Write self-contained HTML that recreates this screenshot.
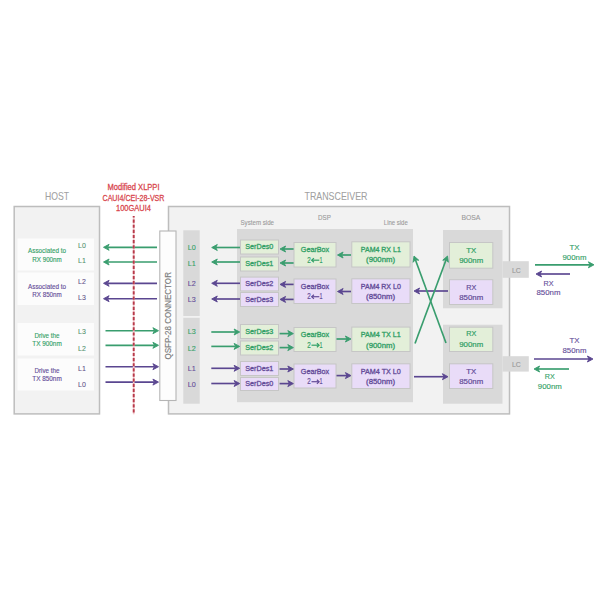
<!DOCTYPE html>
<html><head><meta charset="utf-8"><style>
html,body{margin:0;padding:0;background:#fff;width:600px;height:600px;overflow:hidden}
svg{display:block;font-family:"Liberation Sans", sans-serif}
</style></head><body>
<svg width="600" height="600" viewBox="0 0 600 600">
<rect x="0" y="0" width="600" height="600" fill="#ffffff"/>
<text x="57" y="199.5" font-size="10.3" fill="#a0a0a0" stroke="#a0a0a0" stroke-width="0.06" text-anchor="middle" font-weight="normal" textLength="24" lengthAdjust="spacingAndGlyphs" >HOST</text>
<rect x="14.2" y="206.5" width="85.3" height="207.39999999999998" fill="#f2f2f2" stroke="#bdbdbd" stroke-width="1.5"/>
<rect x="17.5" y="238.5" width="76.5" height="32.0" fill="#fcfcfc"/>
<rect x="17.5" y="272.5" width="76.5" height="32.5" fill="#fcfcfc"/>
<rect x="17.5" y="323" width="76.5" height="32.5" fill="#fcfcfc"/>
<rect x="17.5" y="358.5" width="76.5" height="32.0" fill="#fcfcfc"/>
<text x="47" y="253" font-size="6.4" fill="#32a066" stroke="#32a066" stroke-width="0.12" text-anchor="middle" font-weight="normal" textLength="38" lengthAdjust="spacingAndGlyphs" >Associated to</text>
<text x="47" y="261.5" font-size="6.4" fill="#32a066" stroke="#32a066" stroke-width="0.12" text-anchor="middle" font-weight="normal" textLength="29.5" lengthAdjust="spacingAndGlyphs" >RX 900nm</text>
<text x="82" y="247.7" font-size="7" fill="#4f8f6b" stroke="#4f8f6b" stroke-width="0.06" text-anchor="middle" font-weight="normal" >L0</text>
<text x="82" y="262.7" font-size="7" fill="#4f8f6b" stroke="#4f8f6b" stroke-width="0.06" text-anchor="middle" font-weight="normal" >L1</text>
<text x="47" y="288.5" font-size="6.4" fill="#644c98" stroke="#644c98" stroke-width="0.12" text-anchor="middle" font-weight="normal" textLength="38" lengthAdjust="spacingAndGlyphs" >Associated to</text>
<text x="47" y="296.5" font-size="6.4" fill="#644c98" stroke="#644c98" stroke-width="0.12" text-anchor="middle" font-weight="normal" textLength="29.5" lengthAdjust="spacingAndGlyphs" >RX 850nm</text>
<text x="82" y="283.7" font-size="7" fill="#5c4f86" stroke="#5c4f86" stroke-width="0.06" text-anchor="middle" font-weight="normal" >L2</text>
<text x="82" y="299.6" font-size="7" fill="#5c4f86" stroke="#5c4f86" stroke-width="0.06" text-anchor="middle" font-weight="normal" >L3</text>
<text x="47" y="337.5" font-size="6.4" fill="#32a066" stroke="#32a066" stroke-width="0.12" text-anchor="middle" font-weight="normal" textLength="25" lengthAdjust="spacingAndGlyphs" >Drive the</text>
<text x="47" y="345.5" font-size="6.4" fill="#32a066" stroke="#32a066" stroke-width="0.12" text-anchor="middle" font-weight="normal" textLength="29.5" lengthAdjust="spacingAndGlyphs" >TX 900nm</text>
<text x="82" y="334.2" font-size="7" fill="#4f8f6b" stroke="#4f8f6b" stroke-width="0.06" text-anchor="middle" font-weight="normal" >L3</text>
<text x="82" y="350.7" font-size="7" fill="#4f8f6b" stroke="#4f8f6b" stroke-width="0.06" text-anchor="middle" font-weight="normal" >L2</text>
<text x="47" y="373" font-size="6.4" fill="#644c98" stroke="#644c98" stroke-width="0.12" text-anchor="middle" font-weight="normal" textLength="25" lengthAdjust="spacingAndGlyphs" >Drive the</text>
<text x="47" y="381" font-size="6.4" fill="#644c98" stroke="#644c98" stroke-width="0.12" text-anchor="middle" font-weight="normal" textLength="29.5" lengthAdjust="spacingAndGlyphs" >TX 850nm</text>
<text x="82" y="370.7" font-size="7" fill="#5c4f86" stroke="#5c4f86" stroke-width="0.06" text-anchor="middle" font-weight="normal" >L1</text>
<text x="82" y="387.2" font-size="7" fill="#5c4f86" stroke="#5c4f86" stroke-width="0.06" text-anchor="middle" font-weight="normal" >L0</text>
<text x="133.5" y="190" font-size="8.2" fill="#d8454d" stroke="#d8454d" stroke-width="0.26" text-anchor="middle" font-weight="normal" textLength="52" lengthAdjust="spacingAndGlyphs" >Modified XLPPI</text>
<text x="133.5" y="200.8" font-size="8.2" fill="#d8454d" stroke="#d8454d" stroke-width="0.26" text-anchor="middle" font-weight="normal" textLength="62" lengthAdjust="spacingAndGlyphs" >CAUI4/CEI-28-VSR</text>
<text x="133.5" y="211" font-size="8.2" fill="#d8454d" stroke="#d8454d" stroke-width="0.26" text-anchor="middle" font-weight="normal" textLength="35" lengthAdjust="spacingAndGlyphs" >100GAUI4</text>
<text x="336" y="200" font-size="10.3" fill="#a0a0a0" stroke="#a0a0a0" stroke-width="0.06" text-anchor="middle" font-weight="normal" textLength="63" lengthAdjust="spacingAndGlyphs" >TRANSCEIVER</text>
<rect x="168.5" y="206.5" width="341.0" height="207.39999999999998" fill="#f2f2f2" stroke="#bdbdbd" stroke-width="1.5"/>
<line x1="157" y1="247.3" x2="107.53" y2="247.30" stroke="#399d6e" stroke-width="1.65"/>
<polygon points="109.10,244.30 103.50,247.30 109.10,250.30 107.53,247.30" fill="#399d6e" stroke="#399d6e" stroke-width="0.9" stroke-linejoin="round"/>
<line x1="157" y1="262" x2="107.53" y2="262.00" stroke="#399d6e" stroke-width="1.65"/>
<polygon points="109.10,259.00 103.50,262.00 109.10,265.00 107.53,262.00" fill="#399d6e" stroke="#399d6e" stroke-width="0.9" stroke-linejoin="round"/>
<line x1="157" y1="283.3" x2="107.53" y2="283.30" stroke="#5a4690" stroke-width="1.65"/>
<polygon points="109.10,280.30 103.50,283.30 109.10,286.30 107.53,283.30" fill="#5a4690" stroke="#5a4690" stroke-width="0.9" stroke-linejoin="round"/>
<line x1="157" y1="298.7" x2="107.53" y2="298.70" stroke="#5a4690" stroke-width="1.65"/>
<polygon points="109.10,295.70 103.50,298.70 109.10,301.70 107.53,298.70" fill="#5a4690" stroke="#5a4690" stroke-width="0.9" stroke-linejoin="round"/>
<line x1="105.5" y1="330.7" x2="154.47" y2="330.70" stroke="#399d6e" stroke-width="1.65"/>
<polygon points="152.90,333.70 158.50,330.70 152.90,327.70 154.47,330.70" fill="#399d6e" stroke="#399d6e" stroke-width="0.9" stroke-linejoin="round"/>
<line x1="105.5" y1="345.3" x2="154.47" y2="345.30" stroke="#399d6e" stroke-width="1.65"/>
<polygon points="152.90,348.30 158.50,345.30 152.90,342.30 154.47,345.30" fill="#399d6e" stroke="#399d6e" stroke-width="0.9" stroke-linejoin="round"/>
<line x1="105.5" y1="366.7" x2="154.47" y2="366.70" stroke="#5a4690" stroke-width="1.65"/>
<polygon points="152.90,369.70 158.50,366.70 152.90,363.70 154.47,366.70" fill="#5a4690" stroke="#5a4690" stroke-width="0.9" stroke-linejoin="round"/>
<line x1="105.5" y1="382.1" x2="154.47" y2="382.10" stroke="#5a4690" stroke-width="1.65"/>
<polygon points="152.90,385.10 158.50,382.10 152.90,379.10 154.47,382.10" fill="#5a4690" stroke="#5a4690" stroke-width="0.9" stroke-linejoin="round"/>
<line x1="133.7" y1="216" x2="133.7" y2="414.3" stroke="#f3c9cd" stroke-width="1.7"/>
<line x1="133.7" y1="216" x2="133.7" y2="414.3" stroke="#b73a4a" stroke-width="1.9" stroke-dasharray="3.2 1.93" stroke-dashoffset="1.6"/>
<rect x="159.8" y="231" width="16.19999999999999" height="169.5" fill="#fdfdfd" stroke="#b5b5b5" stroke-width="1.1"/>
<text x="0" y="0" font-size="9.2" fill="#7c7c7c" stroke="#7c7c7c" stroke-width="0.15" text-anchor="middle" transform="translate(171.0,315.8) rotate(-90)" textLength="87.5" lengthAdjust="spacingAndGlyphs">QSFP-28 CONNECTOR</text>
<rect x="183.3" y="230.3" width="16.399999999999977" height="85.69999999999999" fill="#d9d9d9"/>
<rect x="183.3" y="317.8" width="16.399999999999977" height="85.89999999999998" fill="#d9d9d9"/>
<text x="191.7" y="249.6" font-size="7.2" fill="#32a066" stroke="#32a066" stroke-width="0.11" text-anchor="middle" font-weight="normal" >L0</text>
<text x="191.7" y="265.90000000000003" font-size="7.2" fill="#32a066" stroke="#32a066" stroke-width="0.11" text-anchor="middle" font-weight="normal" >L1</text>
<text x="191.7" y="285.90000000000003" font-size="7.2" fill="#644c98" stroke="#644c98" stroke-width="0.11" text-anchor="middle" font-weight="normal" >L2</text>
<text x="191.7" y="301.6" font-size="7.2" fill="#644c98" stroke="#644c98" stroke-width="0.11" text-anchor="middle" font-weight="normal" >L3</text>
<text x="191.7" y="334.20000000000005" font-size="7.2" fill="#32a066" stroke="#32a066" stroke-width="0.11" text-anchor="middle" font-weight="normal" >L3</text>
<text x="191.7" y="350.6" font-size="7.2" fill="#32a066" stroke="#32a066" stroke-width="0.11" text-anchor="middle" font-weight="normal" >L2</text>
<text x="191.7" y="370.6" font-size="7.2" fill="#644c98" stroke="#644c98" stroke-width="0.11" text-anchor="middle" font-weight="normal" >L1</text>
<text x="191.7" y="386.6" font-size="7.2" fill="#644c98" stroke="#644c98" stroke-width="0.11" text-anchor="middle" font-weight="normal" >L0</text>
<text x="324.4" y="219.6" font-size="7.9" fill="#999999" stroke="#999999" stroke-width="0.11" text-anchor="middle" font-weight="normal" textLength="12.8" lengthAdjust="spacingAndGlyphs" >DSP</text>
<text x="240.5" y="225" font-size="6.8" fill="#9a9a9a" stroke="#9a9a9a" stroke-width="0.1" text-anchor="start" font-weight="normal" textLength="33.5" lengthAdjust="spacingAndGlyphs" >System side</text>
<text x="383.8" y="225" font-size="6.8" fill="#9a9a9a" stroke="#9a9a9a" stroke-width="0.1" text-anchor="start" font-weight="normal" textLength="24" lengthAdjust="spacingAndGlyphs" >Line side</text>
<rect x="237" y="229" width="176" height="173.2" fill="#d9d9d9"/>
<rect x="240.5" y="240.0" width="38.0" height="14.0" fill="#e3efd9" stroke="#c6c6c6" stroke-width="1"/>
<text x="259.3" y="249.3" font-size="7.2" fill="#32a066" stroke="#32a066" stroke-width="0.31" text-anchor="middle" font-weight="normal" textLength="28" lengthAdjust="spacingAndGlyphs" >SerDes0</text>
<rect x="240.5" y="257.0" width="38.0" height="14.0" fill="#e3efd9" stroke="#c6c6c6" stroke-width="1"/>
<text x="259.3" y="266.3" font-size="7.2" fill="#32a066" stroke="#32a066" stroke-width="0.31" text-anchor="middle" font-weight="normal" textLength="28" lengthAdjust="spacingAndGlyphs" >SerDes1</text>
<rect x="240.5" y="277.1" width="38.0" height="13.799999999999955" fill="#e9dcf8" stroke="#c6c6c6" stroke-width="1"/>
<text x="259.3" y="286.3" font-size="7.2" fill="#644c98" stroke="#644c98" stroke-width="0.31" text-anchor="middle" font-weight="normal" textLength="28" lengthAdjust="spacingAndGlyphs" >SerDes2</text>
<rect x="240.5" y="292.5" width="38.0" height="14.0" fill="#e9dcf8" stroke="#c6c6c6" stroke-width="1"/>
<text x="259.3" y="301.8" font-size="7.2" fill="#644c98" stroke="#644c98" stroke-width="0.31" text-anchor="middle" font-weight="normal" textLength="28" lengthAdjust="spacingAndGlyphs" >SerDes3</text>
<rect x="240.5" y="324.5" width="38.0" height="14.0" fill="#e3efd9" stroke="#c6c6c6" stroke-width="1"/>
<text x="259.3" y="333.8" font-size="7.2" fill="#32a066" stroke="#32a066" stroke-width="0.31" text-anchor="middle" font-weight="normal" textLength="28" lengthAdjust="spacingAndGlyphs" >SerDes3</text>
<rect x="240.5" y="341.0" width="38.0" height="14.0" fill="#e3efd9" stroke="#c6c6c6" stroke-width="1"/>
<text x="259.3" y="350.3" font-size="7.2" fill="#32a066" stroke="#32a066" stroke-width="0.31" text-anchor="middle" font-weight="normal" textLength="28" lengthAdjust="spacingAndGlyphs" >SerDes2</text>
<rect x="240.5" y="361.5" width="38.0" height="14.0" fill="#e9dcf8" stroke="#c6c6c6" stroke-width="1"/>
<text x="259.3" y="370.8" font-size="7.2" fill="#644c98" stroke="#644c98" stroke-width="0.31" text-anchor="middle" font-weight="normal" textLength="28" lengthAdjust="spacingAndGlyphs" >SerDes1</text>
<rect x="240.5" y="377.5" width="38.0" height="13.0" fill="#e9dcf8" stroke="#c6c6c6" stroke-width="1"/>
<text x="259.3" y="386.3" font-size="7.2" fill="#644c98" stroke="#644c98" stroke-width="0.31" text-anchor="middle" font-weight="normal" textLength="28" lengthAdjust="spacingAndGlyphs" >SerDes0</text>
<rect x="294.0" y="242.5" width="42.0" height="24.5" fill="#e3efd9" stroke="#c6c6c6" stroke-width="1"/>
<text x="315" y="252" font-size="7.2" fill="#32a066" stroke="#32a066" stroke-width="0.31" text-anchor="middle" font-weight="normal" textLength="28.4" lengthAdjust="spacingAndGlyphs" >GearBox</text>
<text x="309.0" y="262.6" font-size="8.4" fill="#32a066" stroke="#32a066" stroke-width="0.18" text-anchor="middle" font-weight="normal" textLength="3.5" lengthAdjust="spacingAndGlyphs" >2</text>
<text x="321.1" y="262.6" font-size="8.4" fill="#32a066" stroke="#32a066" stroke-width="0.18" text-anchor="middle" font-weight="normal" textLength="3.0" lengthAdjust="spacingAndGlyphs" >1</text>
<polyline points="313.9,258.2 311.7,260.2 313.9,262.2" fill="none" stroke="#32a066" stroke-width="1.2"/>
<line x1="311.9" y1="260.2" x2="319.3" y2="260.2" stroke="#32a066" stroke-width="1.2"/>
<rect x="294.0" y="279.0" width="42.0" height="24.5" fill="#e9dcf8" stroke="#c6c6c6" stroke-width="1"/>
<text x="315" y="288.5" font-size="7.2" fill="#644c98" stroke="#644c98" stroke-width="0.31" text-anchor="middle" font-weight="normal" textLength="28.4" lengthAdjust="spacingAndGlyphs" >GearBox</text>
<text x="309.0" y="299.1" font-size="8.4" fill="#644c98" stroke="#644c98" stroke-width="0.18" text-anchor="middle" font-weight="normal" textLength="3.5" lengthAdjust="spacingAndGlyphs" >2</text>
<text x="321.1" y="299.1" font-size="8.4" fill="#644c98" stroke="#644c98" stroke-width="0.18" text-anchor="middle" font-weight="normal" textLength="3.0" lengthAdjust="spacingAndGlyphs" >1</text>
<polyline points="313.9,294.7 311.7,296.7 313.9,298.7" fill="none" stroke="#644c98" stroke-width="1.2"/>
<line x1="311.9" y1="296.7" x2="319.3" y2="296.7" stroke="#644c98" stroke-width="1.2"/>
<rect x="294.0" y="327.5" width="42.0" height="24.0" fill="#e3efd9" stroke="#c6c6c6" stroke-width="1"/>
<text x="315" y="337" font-size="7.2" fill="#32a066" stroke="#32a066" stroke-width="0.31" text-anchor="middle" font-weight="normal" textLength="28.4" lengthAdjust="spacingAndGlyphs" >GearBox</text>
<text x="309.0" y="347.6" font-size="8.4" fill="#32a066" stroke="#32a066" stroke-width="0.18" text-anchor="middle" font-weight="normal" textLength="3.5" lengthAdjust="spacingAndGlyphs" >2</text>
<text x="321.1" y="347.6" font-size="8.4" fill="#32a066" stroke="#32a066" stroke-width="0.18" text-anchor="middle" font-weight="normal" textLength="3.0" lengthAdjust="spacingAndGlyphs" >1</text>
<polyline points="316.9,343.2 319.1,345.2 316.9,347.2" fill="none" stroke="#32a066" stroke-width="1.2"/>
<line x1="311.5" y1="345.2" x2="318.9" y2="345.2" stroke="#32a066" stroke-width="1.2"/>
<rect x="294.0" y="364.0" width="42.0" height="24.0" fill="#e9dcf8" stroke="#c6c6c6" stroke-width="1"/>
<text x="315" y="373.5" font-size="7.2" fill="#644c98" stroke="#644c98" stroke-width="0.31" text-anchor="middle" font-weight="normal" textLength="28.4" lengthAdjust="spacingAndGlyphs" >GearBox</text>
<text x="309.0" y="384.1" font-size="8.4" fill="#644c98" stroke="#644c98" stroke-width="0.18" text-anchor="middle" font-weight="normal" textLength="3.5" lengthAdjust="spacingAndGlyphs" >2</text>
<text x="321.1" y="384.1" font-size="8.4" fill="#644c98" stroke="#644c98" stroke-width="0.18" text-anchor="middle" font-weight="normal" textLength="3.0" lengthAdjust="spacingAndGlyphs" >1</text>
<polyline points="316.9,379.7 319.1,381.7 316.9,383.7" fill="none" stroke="#644c98" stroke-width="1.2"/>
<line x1="311.5" y1="381.7" x2="318.9" y2="381.7" stroke="#644c98" stroke-width="1.2"/>
<rect x="351.8" y="241.8" width="58.19999999999999" height="25.19999999999999" fill="#e3efd9" stroke="#c6c6c6" stroke-width="1"/>
<text x="380.8" y="251.8" font-size="7" fill="#32a066" stroke="#32a066" stroke-width="0.31" text-anchor="middle" font-weight="normal" textLength="40" lengthAdjust="spacingAndGlyphs" >PAM4 RX L1</text>
<text x="380.6" y="262.3" font-size="7.3" fill="#32a066" stroke="#32a066" stroke-width="0.31" text-anchor="middle" font-weight="normal" textLength="29" lengthAdjust="spacingAndGlyphs" >(900nm)</text>
<rect x="351.8" y="278.8" width="58.19999999999999" height="24.69999999999999" fill="#e9dcf8" stroke="#c6c6c6" stroke-width="1"/>
<text x="380.8" y="288.8" font-size="7" fill="#644c98" stroke="#644c98" stroke-width="0.31" text-anchor="middle" font-weight="normal" textLength="40" lengthAdjust="spacingAndGlyphs" >PAM4 RX L0</text>
<text x="380.6" y="299.3" font-size="7.3" fill="#644c98" stroke="#644c98" stroke-width="0.31" text-anchor="middle" font-weight="normal" textLength="29" lengthAdjust="spacingAndGlyphs" >(850nm)</text>
<rect x="351.8" y="327.1" width="58.19999999999999" height="24.399999999999977" fill="#e3efd9" stroke="#c6c6c6" stroke-width="1"/>
<text x="380.8" y="337.1" font-size="7" fill="#32a066" stroke="#32a066" stroke-width="0.31" text-anchor="middle" font-weight="normal" textLength="40" lengthAdjust="spacingAndGlyphs" >PAM4 TX L1</text>
<text x="380.6" y="347.6" font-size="7.3" fill="#32a066" stroke="#32a066" stroke-width="0.31" text-anchor="middle" font-weight="normal" textLength="29" lengthAdjust="spacingAndGlyphs" >(900nm)</text>
<rect x="351.8" y="363.8" width="58.19999999999999" height="24.69999999999999" fill="#e9dcf8" stroke="#c6c6c6" stroke-width="1"/>
<text x="380.8" y="373.8" font-size="7" fill="#644c98" stroke="#644c98" stroke-width="0.31" text-anchor="middle" font-weight="normal" textLength="40" lengthAdjust="spacingAndGlyphs" >PAM4 TX L0</text>
<text x="380.6" y="384.3" font-size="7.3" fill="#644c98" stroke="#644c98" stroke-width="0.31" text-anchor="middle" font-weight="normal" textLength="29" lengthAdjust="spacingAndGlyphs" >(850nm)</text>
<line x1="240" y1="247.5" x2="215.73" y2="247.50" stroke="#399d6e" stroke-width="1.65"/>
<polygon points="217.30,244.50 211.70,247.50 217.30,250.50 215.73,247.50" fill="#399d6e" stroke="#399d6e" stroke-width="0.9" stroke-linejoin="round"/>
<line x1="240" y1="262" x2="215.73" y2="262.00" stroke="#399d6e" stroke-width="1.65"/>
<polygon points="217.30,259.00 211.70,262.00 217.30,265.00 215.73,262.00" fill="#399d6e" stroke="#399d6e" stroke-width="0.9" stroke-linejoin="round"/>
<line x1="240" y1="283.3" x2="215.73" y2="283.30" stroke="#5a4690" stroke-width="1.65"/>
<polygon points="217.30,280.30 211.70,283.30 217.30,286.30 215.73,283.30" fill="#5a4690" stroke="#5a4690" stroke-width="0.9" stroke-linejoin="round"/>
<line x1="240" y1="299" x2="215.73" y2="299.00" stroke="#5a4690" stroke-width="1.65"/>
<polygon points="217.30,296.00 211.70,299.00 217.30,302.00 215.73,299.00" fill="#5a4690" stroke="#5a4690" stroke-width="0.9" stroke-linejoin="round"/>
<line x1="211.3" y1="332" x2="235.67" y2="332.00" stroke="#399d6e" stroke-width="1.65"/>
<polygon points="234.10,335.00 239.70,332.00 234.10,329.00 235.67,332.00" fill="#399d6e" stroke="#399d6e" stroke-width="0.9" stroke-linejoin="round"/>
<line x1="211.3" y1="346.4" x2="235.67" y2="346.40" stroke="#399d6e" stroke-width="1.65"/>
<polygon points="234.10,349.40 239.70,346.40 234.10,343.40 235.67,346.40" fill="#399d6e" stroke="#399d6e" stroke-width="0.9" stroke-linejoin="round"/>
<line x1="211.3" y1="368.3" x2="235.67" y2="368.30" stroke="#5a4690" stroke-width="1.65"/>
<polygon points="234.10,371.30 239.70,368.30 234.10,365.30 235.67,368.30" fill="#5a4690" stroke="#5a4690" stroke-width="0.9" stroke-linejoin="round"/>
<line x1="211.3" y1="383.5" x2="235.67" y2="383.50" stroke="#5a4690" stroke-width="1.65"/>
<polygon points="234.10,386.50 239.70,383.50 234.10,380.50 235.67,383.50" fill="#5a4690" stroke="#5a4690" stroke-width="0.9" stroke-linejoin="round"/>
<line x1="293.6" y1="249" x2="284.03" y2="249.00" stroke="#399d6e" stroke-width="1.65"/>
<polygon points="285.60,246.00 280.00,249.00 285.60,252.00 284.03,249.00" fill="#399d6e" stroke="#399d6e" stroke-width="0.9" stroke-linejoin="round"/>
<line x1="293.6" y1="263" x2="284.03" y2="263.00" stroke="#399d6e" stroke-width="1.65"/>
<polygon points="285.60,260.00 280.00,263.00 285.60,266.00 284.03,263.00" fill="#399d6e" stroke="#399d6e" stroke-width="0.9" stroke-linejoin="round"/>
<line x1="293.6" y1="284.4" x2="284.03" y2="284.40" stroke="#5a4690" stroke-width="1.65"/>
<polygon points="285.60,281.40 280.00,284.40 285.60,287.40 284.03,284.40" fill="#5a4690" stroke="#5a4690" stroke-width="0.9" stroke-linejoin="round"/>
<line x1="293.6" y1="299.4" x2="284.03" y2="299.40" stroke="#5a4690" stroke-width="1.65"/>
<polygon points="285.60,296.40 280.00,299.40 285.60,302.40 284.03,299.40" fill="#5a4690" stroke="#5a4690" stroke-width="0.9" stroke-linejoin="round"/>
<line x1="279.6" y1="333.6" x2="289.37" y2="333.60" stroke="#399d6e" stroke-width="1.65"/>
<polygon points="287.80,336.60 293.40,333.60 287.80,330.60 289.37,333.60" fill="#399d6e" stroke="#399d6e" stroke-width="0.9" stroke-linejoin="round"/>
<line x1="279.6" y1="347.6" x2="289.37" y2="347.60" stroke="#399d6e" stroke-width="1.65"/>
<polygon points="287.80,350.60 293.40,347.60 287.80,344.60 289.37,347.60" fill="#399d6e" stroke="#399d6e" stroke-width="0.9" stroke-linejoin="round"/>
<line x1="279.6" y1="369" x2="289.37" y2="369.00" stroke="#5a4690" stroke-width="1.65"/>
<polygon points="287.80,372.00 293.40,369.00 287.80,366.00 289.37,369.00" fill="#5a4690" stroke="#5a4690" stroke-width="0.9" stroke-linejoin="round"/>
<line x1="279.6" y1="383.6" x2="289.37" y2="383.60" stroke="#5a4690" stroke-width="1.65"/>
<polygon points="287.80,386.60 293.40,383.60 287.80,380.60 289.37,383.60" fill="#5a4690" stroke="#5a4690" stroke-width="0.9" stroke-linejoin="round"/>
<line x1="351" y1="255" x2="341.53" y2="255.00" stroke="#399d6e" stroke-width="1.65"/>
<polygon points="343.10,252.00 337.50,255.00 343.10,258.00 341.53,255.00" fill="#399d6e" stroke="#399d6e" stroke-width="0.9" stroke-linejoin="round"/>
<line x1="351" y1="291.5" x2="341.53" y2="291.50" stroke="#5a4690" stroke-width="1.65"/>
<polygon points="343.10,288.50 337.50,291.50 343.10,294.50 341.53,291.50" fill="#5a4690" stroke="#5a4690" stroke-width="0.9" stroke-linejoin="round"/>
<line x1="336.5" y1="339" x2="346.97" y2="339.00" stroke="#399d6e" stroke-width="1.65"/>
<polygon points="345.40,342.00 351.00,339.00 345.40,336.00 346.97,339.00" fill="#399d6e" stroke="#399d6e" stroke-width="0.9" stroke-linejoin="round"/>
<line x1="336.5" y1="375.6" x2="346.97" y2="375.60" stroke="#5a4690" stroke-width="1.65"/>
<polygon points="345.40,378.60 351.00,375.60 345.40,372.60 346.97,375.60" fill="#5a4690" stroke="#5a4690" stroke-width="0.9" stroke-linejoin="round"/>
<text x="470.9" y="219.6" font-size="8.1" fill="#999999" stroke="#999999" stroke-width="0.11" text-anchor="middle" font-weight="normal" textLength="19" lengthAdjust="spacingAndGlyphs" >BOSA</text>
<rect x="443" y="230" width="59.5" height="78.30000000000001" fill="#d9d9d9"/>
<rect x="443" y="324.7" width="59.5" height="79.0" fill="#d9d9d9"/>
<rect x="502.5" y="261.2" width="26.299999999999955" height="16.600000000000023" fill="#d9d9d9"/>
<rect x="502.5" y="356.2" width="26.299999999999955" height="15.400000000000034" fill="#d9d9d9"/>
<text x="516.4" y="272.7" font-size="7.8" fill="#9c9c9c" stroke="#9c9c9c" stroke-width="0.16" text-anchor="middle" font-weight="normal" textLength="8.8" lengthAdjust="spacingAndGlyphs" >LC</text>
<text x="516.4" y="367.3" font-size="7.8" fill="#9c9c9c" stroke="#9c9c9c" stroke-width="0.16" text-anchor="middle" font-weight="normal" textLength="8.8" lengthAdjust="spacingAndGlyphs" >LC</text>
<rect x="449.5" y="242.5" width="43.30000000000001" height="25.69999999999999" fill="#e3efd9" stroke="#c6c6c6" stroke-width="1"/>
<text x="471.2" y="253" font-size="7.5" fill="#32a066" stroke="#32a066" stroke-width="0.21" text-anchor="middle" font-weight="normal" textLength="10" lengthAdjust="spacingAndGlyphs" >TX</text>
<text x="471.2" y="263.0" font-size="7.5" fill="#32a066" stroke="#32a066" stroke-width="0.21" text-anchor="middle" font-weight="normal" textLength="24" lengthAdjust="spacingAndGlyphs" >900nm</text>
<rect x="449.5" y="279.7" width="43.30000000000001" height="24.80000000000001" fill="#e9dcf8" stroke="#c6c6c6" stroke-width="1"/>
<text x="471.2" y="290.2" font-size="7.5" fill="#644c98" stroke="#644c98" stroke-width="0.21" text-anchor="middle" font-weight="normal" textLength="10" lengthAdjust="spacingAndGlyphs" >RX</text>
<text x="471.2" y="300.2" font-size="7.5" fill="#644c98" stroke="#644c98" stroke-width="0.21" text-anchor="middle" font-weight="normal" textLength="24" lengthAdjust="spacingAndGlyphs" >850nm</text>
<rect x="449.5" y="327.2" width="43.30000000000001" height="24.30000000000001" fill="#e3efd9" stroke="#c6c6c6" stroke-width="1"/>
<text x="471.2" y="336.2" font-size="7.5" fill="#32a066" stroke="#32a066" stroke-width="0.21" text-anchor="middle" font-weight="normal" textLength="10" lengthAdjust="spacingAndGlyphs" >RX</text>
<text x="471.2" y="346.95" font-size="7.5" fill="#32a066" stroke="#32a066" stroke-width="0.21" text-anchor="middle" font-weight="normal" textLength="24" lengthAdjust="spacingAndGlyphs" >900nm</text>
<rect x="449.5" y="363.8" width="43.30000000000001" height="24.69999999999999" fill="#e9dcf8" stroke="#c6c6c6" stroke-width="1"/>
<text x="471.2" y="373.8" font-size="7.5" fill="#644c98" stroke="#644c98" stroke-width="0.21" text-anchor="middle" font-weight="normal" textLength="10" lengthAdjust="spacingAndGlyphs" >TX</text>
<text x="471.2" y="384.05" font-size="7.5" fill="#644c98" stroke="#644c98" stroke-width="0.21" text-anchor="middle" font-weight="normal" textLength="24" lengthAdjust="spacingAndGlyphs" >850nm</text>
<line x1="448" y1="291" x2="418.03" y2="291.00" stroke="#5a4690" stroke-width="1.65"/>
<polygon points="419.60,288.00 414.00,291.00 419.60,294.00 418.03,291.00" fill="#5a4690" stroke="#5a4690" stroke-width="0.9" stroke-linejoin="round"/>
<line x1="414" y1="376.7" x2="443.97" y2="376.70" stroke="#5a4690" stroke-width="1.65"/>
<polygon points="442.40,379.70 448.00,376.70 442.40,373.70 443.97,376.70" fill="#5a4690" stroke="#5a4690" stroke-width="0.9" stroke-linejoin="round"/>
<line x1="415" y1="343.5" x2="446.10" y2="259.78" stroke="#399d6e" stroke-width="1.65"/>
<polygon points="448.36,262.29 447.50,256.00 442.74,260.21 446.10,259.78" fill="#399d6e" stroke="#399d6e" stroke-width="0.9" stroke-linejoin="round"/>
<line x1="446" y1="343" x2="415.39" y2="259.78" stroke="#399d6e" stroke-width="1.65"/>
<polygon points="418.75,260.22 414.00,256.00 413.12,262.29 415.39,259.78" fill="#399d6e" stroke="#399d6e" stroke-width="0.9" stroke-linejoin="round"/>
<line x1="535" y1="264.8" x2="589.97" y2="264.80" stroke="#399d6e" stroke-width="1.65"/>
<polygon points="588.40,267.80 594.00,264.80 588.40,261.80 589.97,264.80" fill="#399d6e" stroke="#399d6e" stroke-width="0.9" stroke-linejoin="round"/>
<line x1="570" y1="274" x2="540.03" y2="274.00" stroke="#5a4690" stroke-width="1.65"/>
<polygon points="541.60,271.00 536.00,274.00 541.60,277.00 540.03,274.00" fill="#5a4690" stroke="#5a4690" stroke-width="0.9" stroke-linejoin="round"/>
<text x="574.5" y="250" font-size="7.5" fill="#32a066" stroke="#32a066" stroke-width="0.12" text-anchor="middle" font-weight="normal" textLength="10" lengthAdjust="spacingAndGlyphs" >TX</text>
<text x="574.5" y="259.5" font-size="7.5" fill="#32a066" stroke="#32a066" stroke-width="0.12" text-anchor="middle" font-weight="normal" textLength="24" lengthAdjust="spacingAndGlyphs" >900nm</text>
<text x="548.5" y="285.5" font-size="7.5" fill="#644c98" stroke="#644c98" stroke-width="0.12" text-anchor="middle" font-weight="normal" textLength="10" lengthAdjust="spacingAndGlyphs" >RX</text>
<text x="548.5" y="295.2" font-size="7.5" fill="#644c98" stroke="#644c98" stroke-width="0.12" text-anchor="middle" font-weight="normal" textLength="24" lengthAdjust="spacingAndGlyphs" >850nm</text>
<line x1="534" y1="359" x2="588.97" y2="359.00" stroke="#5a4690" stroke-width="1.65"/>
<polygon points="587.40,362.00 593.00,359.00 587.40,356.00 588.97,359.00" fill="#5a4690" stroke="#5a4690" stroke-width="0.9" stroke-linejoin="round"/>
<line x1="569" y1="369" x2="538.03" y2="369.00" stroke="#399d6e" stroke-width="1.65"/>
<polygon points="539.60,366.00 534.00,369.00 539.60,372.00 538.03,369.00" fill="#399d6e" stroke="#399d6e" stroke-width="0.9" stroke-linejoin="round"/>
<text x="574.5" y="343.2" font-size="7.5" fill="#644c98" stroke="#644c98" stroke-width="0.12" text-anchor="middle" font-weight="normal" textLength="10" lengthAdjust="spacingAndGlyphs" >TX</text>
<text x="574.5" y="353.3" font-size="7.5" fill="#644c98" stroke="#644c98" stroke-width="0.12" text-anchor="middle" font-weight="normal" textLength="24" lengthAdjust="spacingAndGlyphs" >850nm</text>
<text x="549.8" y="378.8" font-size="7.5" fill="#32a066" stroke="#32a066" stroke-width="0.12" text-anchor="middle" font-weight="normal" textLength="10" lengthAdjust="spacingAndGlyphs" >RX</text>
<text x="549.8" y="389.2" font-size="7.5" fill="#32a066" stroke="#32a066" stroke-width="0.12" text-anchor="middle" font-weight="normal" textLength="24" lengthAdjust="spacingAndGlyphs" >900nm</text>
</svg>
</body></html>
